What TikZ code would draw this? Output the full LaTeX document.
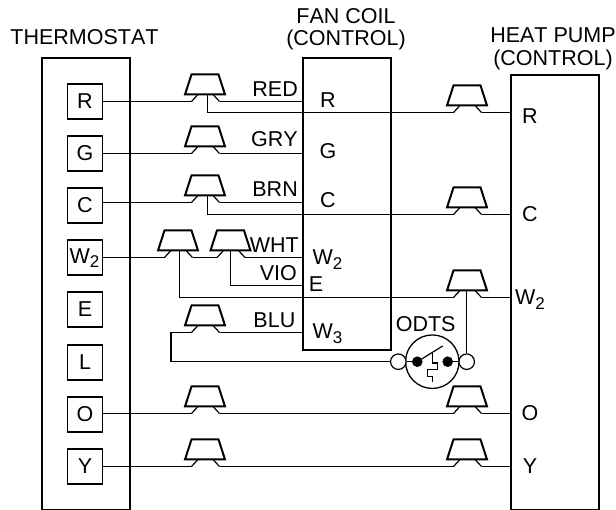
\documentclass[tikz,border=0pt]{standalone}
\usepackage{fontspec}
\setmainfont[Kerning=Off]{Liberation Sans}
\newcommand{\subtwo}[1]{\raisebox{-4.5pt}{\fontsize{17}{17}\selectfont #1}}
\newcommand{\splice}[3]{%
  \begin{scope}[shift={(#2,#3)}]
    \coordinate (#1-wl) at (-13.5,0);
    \coordinate (#1-bl) at (-7,-7);
    \coordinate (#1-br) at (8,-7);
    \coordinate (#1-wr) at (14.5,0);
    \coordinate (#1-s) at (2.5,-7);
    \draw[trap] (-20,-7) -- (-13.5,-27) -- (13.5,-27) -- (20,-7) -- cycle;
    \draw[wire] (#1-wl) -- (#1-bl) (#1-br) -- (#1-wr);
  \end{scope}}
\tikzset{
  panel/.style={draw=black,line width=2pt,inner sep=0pt,minimum width=#1,anchor=north west},
  term/.style={draw=black,line width=1.3pt,inner sep=0pt,minimum width=35pt,minimum height=35pt,fill=white},
  wire/.style={draw=black,line width=1.2pt,line join=miter},
  trap/.style={draw=black,line width=2pt,line join=miter},
  lbl/.style={inner sep=0pt,anchor=base,font=\fontsize{21.5}{21.5}\selectfont},
  rlbl/.style={lbl,anchor=base east},
  smallc/.style={circle,draw=black,line width=1.2pt,fill=white,minimum size=15.5pt,inner sep=0pt},
  dot/.style={circle,fill=black,draw=black,line width=0.5pt,minimum size=10pt,inner sep=0pt},
  bigc/.style={circle,draw=black,line width=1.3pt,minimum size=53.5pt,inner sep=0pt}
}
\begin{document}
\begin{tikzpicture}[x=1pt,y=-1pt]
\useasboundingbox (0,0) rectangle (616,510);
\node[panel=87.5pt,minimum height=451.5pt] (thermo) at (41,57.5) {};
\node[panel=88pt,minimum height=292pt] (fan) at (302,57.5) {};
\node[panel=88pt,minimum height=435pt] (hp) at (510,74) {};

\node[lbl] (tthermo) at (84.5,45) {THERMOSTAT};
\node[lbl] (tfan1) at (346,24) {FAN COIL};
\node[lbl] (tfan2) at (346,46) {(CONTROL)};
\node[lbl] (thp1) at (553,43) {HEAT PUMP};
\node[lbl] (thp2) at (553,65.5) {(CONTROL)};

\node[term] (tR) at (85,101.5) {};
\node[term] (tG) at (85,153.5) {};
\node[term] (tC) at (85,205.5) {};
\node[term] (tW) at (85,257.5) {};
\node[term] (tE) at (85,309.5) {};
\node[term] (tL) at (85,362.5) {};
\node[term] (tO) at (85,414.5) {};
\node[term] (tY) at (85,466.5) {};
\node[lbl] (lR) at (85,109) {R};
\node[lbl] (lG) at (85,161) {G};
\node[lbl] (lC) at (85,213) {C};
\node[lbl] (lW) at (84.5,263.5) {W\subtwo{2}};
\node[lbl] (lE) at (85,317) {E};
\node[lbl] (lL) at (85,370) {L};
\node[lbl] (lO) at (85,422) {O};
\node[lbl] (lY) at (85,474) {Y};

\splice{a}{205}{101.5}
\splice{b}{205}{153.5}
\splice{c}{205}{202.5}
\splice{d}{178}{257.5}
\coordinate (d-s) at (179.5,250.5);
\splice{e}{230.5}{257.5}
\coordinate (e-s) at (230.5,250.5);
\splice{f}{205}{332.5}
\splice{g}{205}{413.5}
\splice{h}{205}{466.5}
\splice{p}{467}{112.5}
\splice{q}{467}{214.5}
\splice{r}{467}{297.5}
\splice{s}{467}{413.5}
\splice{t}{467}{466.5}

% ODTS
\node[bigc] (odts) at (432.3,361.7) {};
\node[dot] (d1) at (417.3,361.7) {};
\node[dot] (d2) at (447.7,361.7) {};
\node[smallc] (c1) at (398.3,361.7) {};
\node[smallc] (c2) at (466.7,361.7) {};
\draw[wire] (c1) -- (d1);
\draw[wire] (d2) -- (c2);
\coordinate (sw1) at (421.7,359);
\coordinate (sw2) at (442.7,346);
\draw[wire] (sw1) -- (sw2);
\draw[wire] (432.3,353.5) -- (432.3,363) -- (437.7,363) -- (437.7,369.5) -- (427.3,369.5) -- (427.3,376.7) -- (432.7,376.7) -- (432.7,381.7);
\node[lbl] (lodts) at (425.7,331.5) {ODTS};

% wires
\draw[wire] (tR.east) -- (a-wl);
\draw[wire] (a-wr) -- (a-wr -| fan.west);
\draw[wire] (a-s) -- (a-s |- p-wl) -- (p-wl);
\draw[wire] (p-wr) -- (p-wr -| hp.west);
\draw[wire] (tG.east |- b-wl) -- (b-wl);
\draw[wire] (b-wr) -- (b-wr -| fan.west);
\draw[wire] (tC.east |- c-wl) -- (c-wl);
\draw[wire] (c-wr) -- (c-wr -| fan.west);
\draw[wire] (c-s) -- (c-s |- q-wl) -- (q-wl);
\draw[wire] (q-wr) -- (q-wr -| hp.west);
\draw[wire] (tW.east |- d-wl) -- (d-wl);
\draw[wire] (d-wr) -- (e-wl);
\draw[wire] (e-wr) -- (e-wr -| fan.west);
\draw[wire] (e-s) -- (e-s |- 0,285.5) -- (302,285.5);
\draw[wire] (d-s) -- (d-s |- r-wl) -- (r-wl);
\draw[wire] (r-wr) -- (r-wr -| hp.west);
\draw[wire] (r-s -| c2) -- (c2.north);
\draw[wire] (f-wr) -- (f-wr -| fan.west);
\draw[wire] (f-wl) -- (171,332.5) -- (171,361.7) -- (c1.west);
\draw[wire] (tO.east |- g-wl) -- (g-wl);
\draw[wire] (g-wr) -- (s-wl);
\draw[wire] (s-wr) -- (s-wr -| hp.west);
\draw[wire] (tY.east |- h-wl) -- (h-wl);
\draw[wire] (h-wr) -- (t-wl);
\draw[wire] (t-wr) -- (t-wr -| hp.west);

% wire labels
\node[rlbl] (lred) at (298,97) {RED};
\node[rlbl] (lgry) at (298,147) {GRY};
\node[rlbl] (lbrn) at (298,197) {BRN};
\node[rlbl] (lwht) at (299,252.7) {WHT};
\node[rlbl] (lvio) at (297,280.7) {VIO};
\node[rlbl] (lblu) at (295.5,328) {BLU};

% fan coil
\node[lbl] (fR) at (328,107.5) {R};
\node[lbl] (fG) at (328,159) {G};
\node[lbl] (fC) at (328,207.5) {C};
\node[lbl] (fW2) at (327.5,265) {W\subtwo{2}};
\node[lbl] (fE) at (316,292) {E};
\node[lbl] (fW3) at (327.5,339) {W\subtwo{3}};

% heat pump
\node[lbl] (hR) at (530,123.5) {R};
\node[lbl] (hC) at (530,221.5) {C};
\node[lbl] (hW) at (530,305) {W\subtwo{2}};
\node[lbl] (hO) at (530,421) {O};
\node[lbl] (hY) at (530,473) {Y};
\end{tikzpicture}
\end{document}
